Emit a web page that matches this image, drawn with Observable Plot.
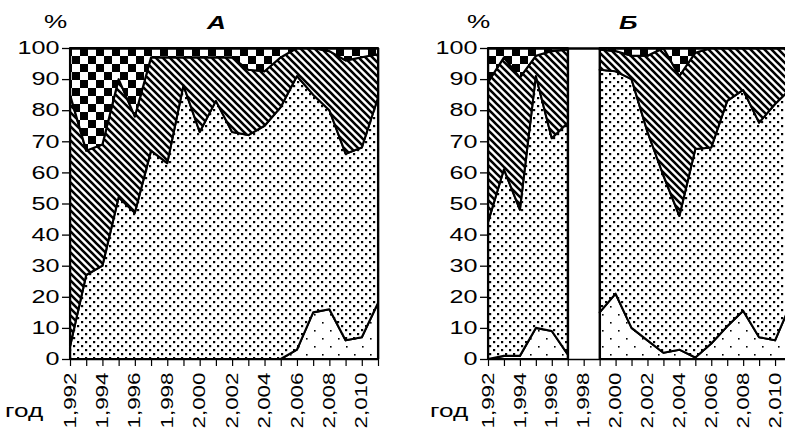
<!DOCTYPE html>
<html><head><meta charset="utf-8">
<script src="https://cdn.jsdelivr.net/npm/d3@7"></script>
<script src="https://cdn.jsdelivr.net/npm/@observablehq/plot@0.6"></script>
<style>
html,body{margin:0;padding:0;background:#fff;overflow:hidden;width:785px;height:430px;}
#wrap{position:relative;width:785px;height:430px;overflow:hidden;font-family:"Liberation Sans",Arial,sans-serif;}
.lbl{position:absolute;font-size:18px;line-height:1;white-space:nowrap;color:#000;transform-origin:0 0;transform:scaleX(1.45);}
.ttl{font-weight:bold;font-style:italic;}
.panel{position:absolute;top:0;}
</style></head><body>
<svg width="0" height="0" style="position:absolute">
<defs>
<pattern id="p-sparse" patternUnits="userSpaceOnUse" width="16" height="16">
  <rect width="16" height="16" fill="white"/>
  <rect x="2" y="2" width="1.6" height="1.6" fill="black"/>
  <rect x="10" y="10" width="1.6" height="1.6" fill="black"/>
</pattern>
<pattern id="p-dense" patternUnits="userSpaceOnUse" width="8" height="8">
  <rect width="8" height="8" fill="white"/>
  <rect x="1" y="1" width="2.2" height="2.2" fill="black"/>
  <rect x="5" y="5" width="2.2" height="2.2" fill="black"/>
</pattern>
<pattern id="p-hatch" patternUnits="userSpaceOnUse" width="7" height="7">
  <rect width="7" height="7" fill="white"/>
  <path d="M-1,-1L8,8M-1,6L1,8M6,-1L8,1" stroke="black" stroke-width="2.6"/>
</pattern>
<pattern id="p-checker" patternUnits="userSpaceOnUse" width="16" height="16">
  <rect width="16" height="16" fill="white"/>
  <rect x="0" y="0" width="8" height="8" fill="black"/>
  <rect x="8" y="8" width="8" height="8" fill="black"/>
</pattern>
</defs>
</svg>
<div id="wrap"></div>
<script>
// ---- data ----
const years = [1992,1993,1994,1995,1996,1997,1998,1999,2000,2001,2002,2003,2004,2005,2006,2007,2008,2009,2010,2011];
const yearLabels = [1992,1994,1996,1998,2000,2002,2004,2006,2008,2010];
const yTicks = [0,10,20,30,40,50,60,70,80,90,100];
const categories = ["sparse","dense","hatch","checker"];
const panelTitles = ["А","Б"];
const yUnit = "%";
const xUnit = "год";

// Panel А: share (%) of each category per year, bottom to top
const A_sparse  = [0,0,0,0,0,0,0,0,0,0,0,0,0,0,3,15,16,6,7,18];
const A_dense   = [4,27,30,52,47,67,63,88,73,83,73,72,75,81,88,70,64,60,61,66];
const A_hatch   = [81,40,39,38,31,30,34,9,24,14,24,21,17.5,16,9,15,19,30,29,14];
const A_checker = [15,33,31,10,22,3,3,3,3,3,3,7,7.5,3,0,0,1,4,3,2];

// Panel Б (no data for 1998)
const B_sparse  = [0,1,1,10,9,1.5,null,15,21,10,6,2,3,0.5,5,10.5,15.5,7,6,18];
const B_dense   = [44,60,47,81,62,74.5,null,78,71.5,80,67,57,43,67,63,72.5,71,69,76,69];
const B_hatch   = [45,36,42.5,6.5,28,23.5,null,6.5,6.5,7.5,24.5,41,45,31,32,17,13.5,24,18,13];
const B_checker = [11,3,9.5,2.5,1,0.5,null,0.5,1,2.5,2.5,0,9,1.5,0,0,0,0,0,0];

const fills = {sparse:"url(#p-sparse)", dense:"url(#p-dense)", hatch:"url(#p-hatch)", checker:"url(#p-checker)"};

function buildLayers(series) {
  return series.map((vals, k) => years.map((yr, i) => {
    if (vals[i] == null) return {year: yr, y1: NaN, y2: NaN};
    let base = 0;
    for (let j = 0; j < k; j++) base += series[j][i];
    return {year: yr, y1: base, y2: base + vals[i]};
  }));
}

function stretch(svg, s) {
  svg.querySelectorAll("text").forEach(t => {
    const tr = t.getAttribute("transform") || "";
    const x = parseFloat(t.getAttribute("x")) || 0;
    t.setAttribute("transform", `${tr} translate(${x},0) scale(${s},1) translate(${-x},0)`);
  });
}

function panel(series, {width, marginLeft, marginRight, gap, frameRight}) {
  const layers = buildLayers(series);
  const marks = [];
  layers.forEach((rows, k) => {
    marks.push(Plot.areaY(rows, {x: "year", y1: "y1", y2: "y2", fill: fills[categories[k]],
      stroke: "black", strokeWidth: 2.1, strokeLinejoin: "round"}));
  });
  if (gap) marks.push(Plot.ruleX(gap, {y1: 0, y2: 100, stroke: "black", strokeWidth: 1.8}));
  if (frameRight) marks.push(Plot.ruleX([frameRight], {y1: 0, y2: 100, stroke: "black", strokeWidth: 1.6}));
  marks.push(Plot.ruleY([100], {stroke: "black", strokeWidth: 2.4}));
  marks.push(Plot.ruleX([years[0]], {y1: 0, y2: 100, stroke: "black", strokeWidth: 1.4}));
  marks.push(Plot.axisY(yTicks, {tickSize: 8, tickPadding: 3, fontSize: 18, label: null, stroke: "black", strokeWidth: 1.3}));
  marks.push(Plot.axisX(years, {tickSize: 7, tickFormat: () => "", label: null, stroke: "black", strokeWidth: 1.2}));
  marks.push(Plot.axisX(yearLabels, {tickSize: 0, tickPadding: 13, tickRotate: -90, fontSize: 16, label: null}));
  marks.push(Plot.ruleY([0], {stroke: "black", strokeWidth: 1.6}));
  const svg = Plot.plot({
    width, height: 430,
    marginLeft, marginRight, marginTop: 48, marginBottom: 71,
    x: {domain: [years[0], years[years.length - 1]]},
    y: {domain: [0, 100]},
    style: {fontFamily: "Liberation Sans, Arial, sans-serif", fontSize: "18px", background: "transparent", color: "black"},
    marks
  });
  stretch(svg, 1.4);
  return svg;
}

const wrap = document.getElementById("wrap");
const svgA = panel([A_sparse, A_dense, A_hatch, A_checker], {width: 395, marginLeft: 70, marginRight: 17, frameRight: 2011});
svgA.classList.add("panel"); svgA.style.left = "0px";
wrap.appendChild(svgA);
const svgB = panel([B_sparse, B_dense, B_hatch, B_checker], {width: 400, marginLeft: 88, marginRight: 9, gap: [1997, 1999], frameRight: 2011});
svgB.classList.add("panel"); svgB.style.left = "400px";
wrap.appendChild(svgB);

function label(text, left, top, cls) {
  const d = document.createElement("div");
  d.className = "lbl" + (cls ? " " + cls : "");
  d.textContent = text;
  d.style.left = left + "px"; d.style.top = top + "px";
  wrap.appendChild(d);
}
label(yUnit, 44, 13);
label(yUnit, 467, 13);
label(panelTitles[0], 207, 14, "ttl");
label(panelTitles[1], 619, 14, "ttl");
label(xUnit, 5, 402);
label(xUnit, 430, 402);
</script>
</body></html>
